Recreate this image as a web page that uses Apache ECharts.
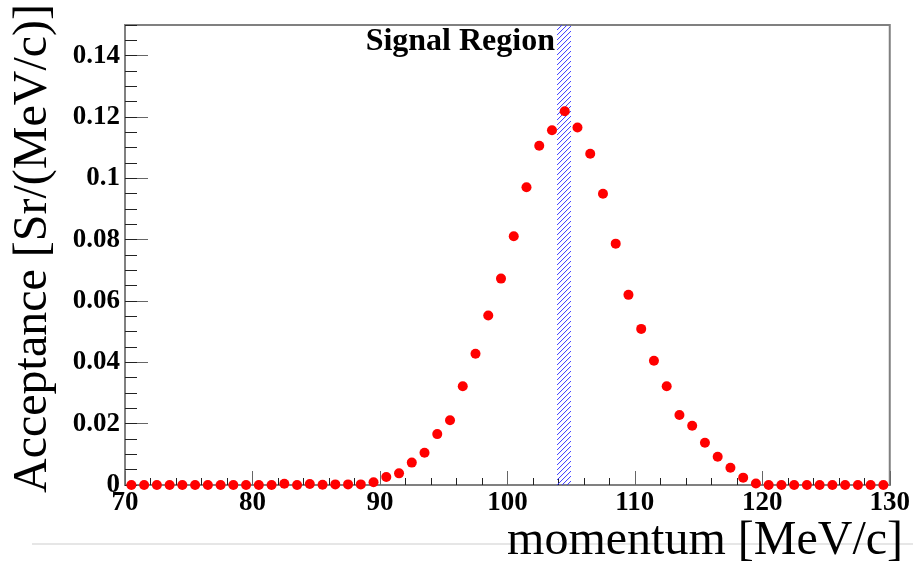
<!DOCTYPE html>
<html>
<head>
<meta charset="utf-8">
<script src="https://cdn.jsdelivr.net/npm/echarts@6/dist/echarts.min.js"></script>
<style>
html, body { margin: 0; padding: 0; background: #fff; }
#chart { width: 913px; height: 564px; }
</style>
</head>
<body>
<div id="chart"></div>
<script>
// bin centres (MeV/c)
var momentum = [70.5, 71.5, 72.5, 73.5, 74.5, 75.5, 76.5, 77.5, 78.5, 79.5,
	80.5, 81.5, 82.5, 83.5, 84.5, 85.5, 86.5, 87.5, 88.5, 89.5,
	90.5, 91.5, 92.5, 93.5, 94.5, 95.5, 96.5, 97.5, 98.5, 99.5,
	100.5, 101.5, 102.5, 103.5, 104.5, 105.5, 106.5, 107.5, 108.5, 109.5,
	110.5, 111.5, 112.5, 113.5, 114.5, 115.5, 116.5, 117.5, 118.5, 119.5,
	120.5, 121.5, 122.5, 123.5, 124.5, 125.5, 126.5, 127.5, 128.5, 129.5];
// acceptance Sr/(MeV/c)
var acceptance = [0, 0, 0, 0, 0, 0, 0, 0, 0, 0,
	0, 0, 0.0004, 0, 0.0003, 0.0001, 0.0002, 0.0002, 0.0002, 0.0009,
	0.0026, 0.0038, 0.0073, 0.0105, 0.0166, 0.0211, 0.0322, 0.0428, 0.0553, 0.0673,
	0.0811, 0.0971, 0.1106, 0.1157, 0.1219, 0.1166, 0.1080, 0.0950, 0.0787, 0.0620,
	0.0509, 0.0405, 0.0322, 0.0228, 0.0193, 0.0138, 0.0092, 0.0056, 0.0024, 0.0005,
	0, 0, 0, 0, 0, 0, 0, 0, 0, 0];
var signalRegion = [103.9, 105.0];
var signalLabel = 'Signal Region';
var xTitle = 'momentum [MeV/c]';
var yTitle = 'Acceptance [Sr/(MeV/c)]';

var points = [];
for (var i = 0; i < momentum.length; i++) {
	points.push([momentum[i], acceptance[i]]);
}

// hatched band, "/" lines clipped to the region
function renderBand(params, api) {
	var cs = params.coordSys;
	var xa = api.coord([api.value(0), 0])[0];
	var xb = api.coord([api.value(1), 0])[0];
	var top = cs.y, bottom = cs.y + cs.height;
	var w = xb - xa;
	var lines = [];
	for (var y = top; y < bottom + w; y += 5) {
		lines.push({
			type: 'line',
			shape: { x1: xa, y1: y, x2: xb, y2: y - w },
			style: { stroke: '#3a3aff', lineWidth: 1 }
		});
	}
	return {
		type: 'group',
		children: lines,
		clipPath: { type: 'rect', shape: { x: xa, y: top, width: w, height: bottom - top } }
	};
}

var serif = 'Liberation Serif';
var chart = echarts.init(document.getElementById('chart'));
chart.setOption({
	animation: false,
	grid: {
		left: 125, right: 20, top: 25, bottom: 79,
		show: true, borderColor: '#808080', borderWidth: 2
	},
	xAxis: {
		type: 'value', min: 70, max: 130, interval: 10,
		axisLine: { lineStyle: { color: '#808080', width: 2 } },
		axisTick: { inside: true, length: 14, lineStyle: { color: '#666' } },
		minorTick: { show: true, splitNumber: 5, length: 7, lineStyle: { color: '#222' } },
		splitLine: { show: false },
		axisLabel: {
			margin: 5, color: '#000', fontFamily: serif, fontWeight: 'bold', fontSize: 27
		}
	},
	yAxis: [{
		type: 'value', min: 0, max: 0.15, interval: 0.02,
		axisLine: { lineStyle: { color: '#808080', width: 2 } },
		axisTick: { inside: true, length: 23, lineStyle: { color: '#666' } },
		splitLine: { show: false },
		axisLabel: {
			margin: 5, color: '#000', fontFamily: serif, fontWeight: 'bold', fontSize: 27,
			showMaxLabel: false,
			formatter: function (v) { return v > 0.145 ? '' : String(+v.toFixed(2)); }
		}
	}, {
		type: 'value', min: 0, max: 0.15, interval: 0.005, position: 'left',
		axisLine: { show: false },
		axisTick: { inside: true, length: 12, lineStyle: { color: '#222' } },
		axisLabel: { show: false },
		splitLine: { show: false }
	}],
	series: [{
		type: 'custom',
		renderItem: renderBand,
		silent: true,
		z: 1,
		data: [[signalRegion[0], signalRegion[1]]]
	}, {
		type: 'scatter',
		data: points,
		symbol: 'circle',
		symbolSize: 10,
		z: 3,
		itemStyle: { color: '#ff0000', opacity: 1 }
	}],
	graphic: [{
		type: 'rect', z: -1,
		shape: { x: 32, y: 543, width: 881, height: 2 },
		style: { fill: '#e6e6e6' }
	}, {
		type: 'text', x: 555, y: 42,
		style: {
			text: signalLabel, textAlign: 'right', textVerticalAlign: 'middle',
			font: 'bold 32px "Liberation Serif"', fill: '#000'
		}
	}, {
		type: 'text', x: 903, y: 541,
		style: {
			text: xTitle, textAlign: 'right', textVerticalAlign: 'middle',
			font: '48px "Liberation Serif"', fill: '#000'
		}
	}, {
		type: 'text', x: 33, y: 493, rotation: Math.PI / 2,
		style: {
			text: yTitle, textAlign: 'left', textVerticalAlign: 'middle',
			font: '48px "Liberation Serif"', fill: '#000'
		}
	}]
});
</script>
</body>
</html>
